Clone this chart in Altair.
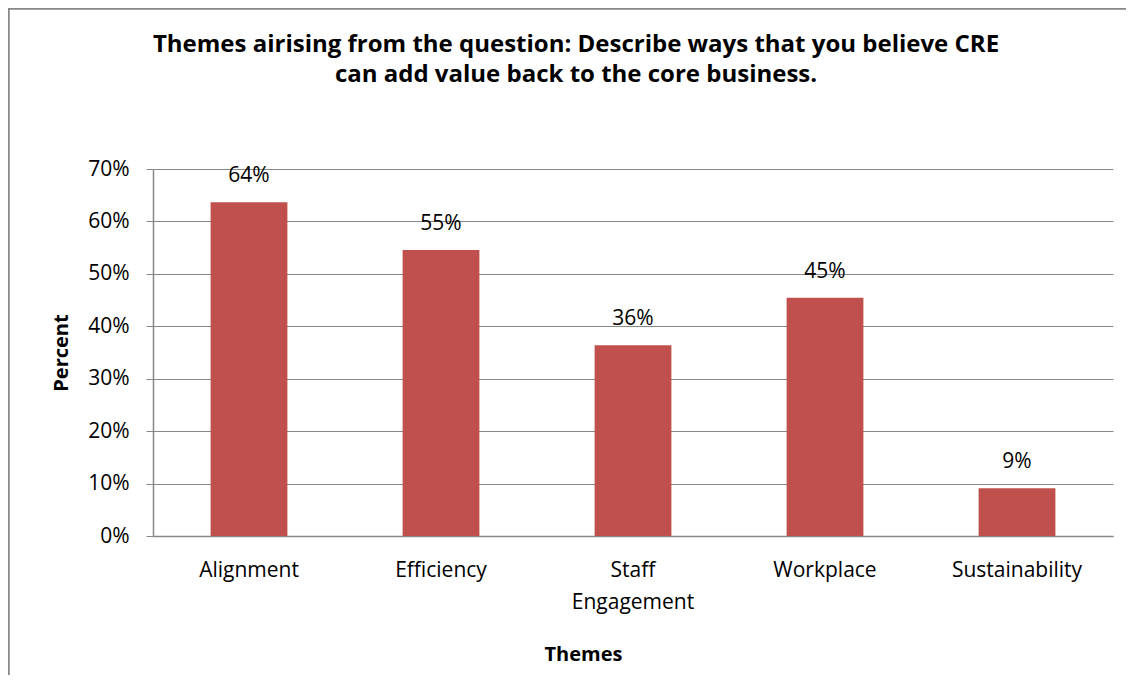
import altair as alt
import pandas as pd

themes = ["Alignment", "Efficiency", "Staff Engagement", "Workplace", "Sustainability"]
percents = [0.6364, 0.5455, 0.3636, 0.4545, 0.0909]
title_lines = ["Themes airising from the question: Describe ways that you believe CRE",
               "can add value back to the core business."]

df = pd.DataFrame({"Theme": themes, "Percent": percents})

FONT = "Open Sans"
GRAY = "#888888"

x_enc = alt.X("Theme:N", sort=themes,
              scale=alt.Scale(paddingInner=0.6, paddingOuter=0.3),
              axis=alt.Axis(title="Themes", labelAngle=0, ticks=False,
                            labelPadding=23, labelFontSize=21, labelFont=FONT,
                            labelColor="black", labelLineHeight=32,
                            labelExpr="datum.label == 'Staff Engagement' ? ['Staff', 'Engagement'] : datum.label",
                            domainColor=GRAY, domainWidth=1.5,
                            titleFont=FONT, titleFontSize=20, titleFontWeight="bold",
                            titleColor="black", titlePadding=32, titleX=430, titleAnchor=None))
y_enc = alt.Y("Percent:Q",
              scale=alt.Scale(domain=[0, 0.7]),
              axis=alt.Axis(title="Percent", format=".0%", values=[0, .1, .2, .3, .4, .5, .6, .7],
                            tickSize=7, tickColor=GRAY, domainColor=GRAY, domainWidth=1.5,
                            gridColor=GRAY, gridWidth=1.2,
                            labelPadding=17, labelFontSize=21, labelFont=FONT, labelColor="black",
                            titleFont=FONT, titleFontSize=20, titleFontWeight="bold",
                            titleColor="black", titlePadding=16))

bars = alt.Chart(df).mark_bar(color="#C0504D").encode(x=x_enc, y=y_enc)
labels = alt.Chart(df).mark_text(baseline="bottom", dy=-16, fontSize=21, font=FONT, color="black").encode(
    x=alt.X("Theme:N", sort=themes), y="Percent:Q", text=alt.Text("Percent:Q", format=".0%"))

border_top = alt.Chart(df).mark_rule(color=GRAY, strokeWidth=1.5).encode(
    x=alt.value(-144.5), x2=alt.value(1200), y=alt.value(-160.5))
border_left = alt.Chart(df).mark_rule(color=GRAY, strokeWidth=1.5).encode(
    x=alt.value(-144.5), y=alt.value(-160.5), y2=alt.value(700))

chart = alt.layer(bars, labels, border_top, border_left).properties(
    width=960, height=367,
    autosize=alt.AutoSizeParams(type="none"),
    padding={"left": 145, "top": 161, "right": 13, "bottom": 139},
    title=alt.TitleParams(text=title_lines, font=FONT, fontSize=24, fontWeight="bold",
                          color="black", anchor="middle", dx=-57, offset=-79, lineHeight=30),
).configure_view(stroke=None)

chart.save("out.html", embed_options={"renderer": "svg", "actions": False})
